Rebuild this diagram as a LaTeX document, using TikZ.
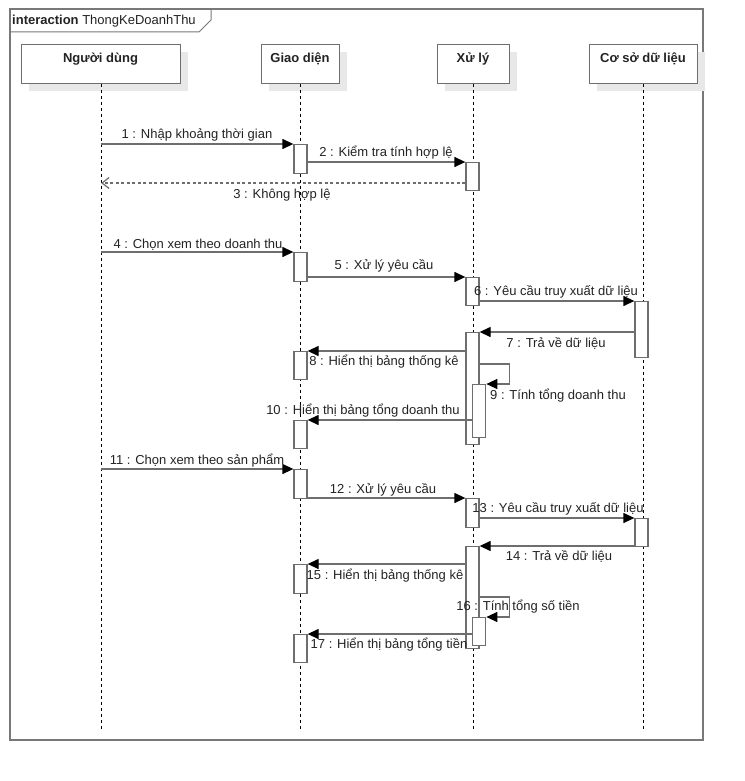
\documentclass[tikz,border=0pt]{standalone}
\usepackage{fontspec}
\setmainfont{Liberation Sans}
\usetikzlibrary{arrows.meta,shadows}
\definecolor{lc}{RGB}{110,110,110}
\definecolor{fc}{RGB}{120,120,120}
\definecolor{sh}{RGB}{232,232,232}
\definecolor{tc}{RGB}{35,35,35}
\begin{document}
\begin{tikzpicture}[x=1pt,y=-1pt,
  font=\fontsize{13}{15}\selectfont, text=tc,
  head/.style={draw=lc, line width=1.3pt, fill=white, inner sep=0pt, anchor=north west,
    drop shadow={shadow xshift=7pt, shadow yshift=-7pt, fill=sh, opacity=1}},
  headtxt/.style={anchor=base, inner sep=0pt, font=\fontsize{13}{15}\selectfont\bfseries},
  life/.style={black, line width=0.9pt, dash pattern=on 3pt off 3pt},
  act/.style={draw=lc, line width=1.3pt, fill=white, minimum width=13pt, inner sep=0pt, anchor=north},
  msg/.style={lc, line width=1.3pt, -{Triangle[length=11pt,width=10pt,color=black]}},
  ret/.style={lc, line width=1.2pt, dash pattern=on 3pt off 2.5pt, -{Straight Barb[length=7pt,width=11pt]}},
  lbl/.style={anchor=base, inner sep=0pt}]
\useasboundingbox (0,0) rectangle (744,781);
% frame
\draw[fc, line width=1.3pt, fill=white] (10,9) rectangle (703,740);
\draw[fc, line width=1pt] (10,32) -- (199,32) -- (211,20) -- (211,9);
\node[anchor=base west, inner sep=0pt] (title) at (12,25) {\textbf{interaction} ThongKeDoanhThu};
% heads
\node[head, minimum width=159pt, minimum height=39pt] (user) at (21,44) {};
\node[head, minimum width=78pt, minimum height=39pt] (gui) at (261,44) {};
\node[head, minimum width=72pt, minimum height=39pt] (proc) at (437,44) {};
\node[head, minimum width=108pt, minimum height=39pt] (db) at (589,44) {};
\node[headtxt] (usert) at (100.5,63) {Người dùng};
\node[headtxt] (guit) at (300,63) {Giao diện};
\node[headtxt] (proct) at (473,63) {Xử lý};
\node[headtxt] (dbt) at (643,63) {Cơ sở dữ liệu};
% lifelines
\coordinate (bot) at (0,730);
\draw[life] (user.south) -- (user.south |- bot);
\draw[life] (gui.south) -- (gui.south |- bot);
\draw[life] (proc.south) -- (proc.south |- bot);
\draw[life] (db.south) -- (db.south |- bot);
% activations
\node[act, minimum height=29pt] (G1) at (300.5,144) {};
\node[act, minimum height=28pt] (X1) at (472.5,162) {};
\node[act, minimum height=29pt] (G2) at (300.5,252) {};
\node[act, minimum height=28pt] (X2) at (472.5,277) {};
\node[act, minimum height=56pt] (D1) at (641.5,301) {};
\node[act, minimum height=112pt] (X3) at (472.5,332) {};
\node[act, minimum height=28pt] (G3) at (300.5,351) {};
\node[act, minimum height=53pt] (N1) at (479.2,384) {};
\node[act, minimum height=28pt] (G4) at (300.5,420) {};
\node[act, minimum height=29pt] (G5) at (300.5,469) {};
\node[act, minimum height=29pt] (X4) at (472.5,498) {};
\node[act, minimum height=28pt] (D2) at (641.5,518) {};
\node[act, minimum height=102pt] (X5) at (472.5,546) {};
\node[act, minimum height=29pt] (G6) at (300.5,564) {};
\node[act, minimum height=28pt] (N2) at (479.2,617) {};
\node[act, minimum height=28pt] (G7) at (300.5,634) {};
% messages
\draw[msg] (user.south |- G1.north) -- (G1.north west);
\draw[msg] (G1.east |- X1.north) -- (X1.north west);
\draw[ret] (X1.west |- 0,183) -- (user.south |- 0,183);
\draw[msg] (user.south |- G2.north) -- (G2.north west);
\draw[msg] (G2.east |- X2.north) -- (X2.north west);
\draw[msg] (X2.east |- D1.north) -- (D1.north west);
\draw[msg] (D1.west |- X3.north) -- (X3.north east);
\draw[msg] (X3.west |- G3.north) -- (G3.north east);
\draw[msg] (X3.east |- 0,364) -- ++(30,0) |- (N1.north east);
\draw[msg] (N1.west |- G4.north) -- (G4.north east);
\draw[msg] (user.south |- G5.north) -- (G5.north west);
\draw[msg] (G5.east |- X4.north) -- (X4.north west);
\draw[msg] (X4.east |- D2.north) -- (D2.north west);
\draw[msg] (D2.west |- X5.north) -- (X5.north east);
\draw[msg] (X5.west |- G6.north) -- (G6.north east);
\draw[msg] (X5.east |- 0,597) -- ++(30,0) |- (N2.north east);
\draw[msg] (N2.west |- G7.north) -- (G7.north east);
% labels
\node[lbl] (L1) at (197,139) {1 : Nhập khoảng thời gian};
\node[lbl] (L2) at (386,157) {2 : Kiểm tra tính hợp lệ};
\node[lbl] (L3) at (282,198) {3 : Không hợp lệ};
\node[lbl] (L4) at (198,248) {4 : Chọn xem theo doanh thu};
\node[lbl] (L5) at (384,269) {5 : Xử lý yêu cầu};
\node[lbl] (L6) at (556,295) {6 : Yêu cầu truy xuất dữ liệu};
\node[lbl] (L7) at (556,347) {7 : Trả về dữ liệu};
\node[lbl] (L8) at (384,365) {8 : Hiển thị bảng thống kê};
\node[lbl] (L9) at (558,399) {9 : Tính tổng doanh thu};
\node[lbl] (L10) at (363,414) {10 : Hiển thị bảng tổng doanh thu};
\node[lbl] (L11) at (197,464) {11 : Chọn xem theo sản phẩm};
\node[lbl] (L12) at (383,493) {12 : Xử lý yêu cầu};
\node[lbl] (L13) at (558,512) {13 : Yêu cầu truy xuất dữ liệu};
\node[lbl] (L14) at (559,560) {14 : Trả về dữ liệu};
\node[lbl] (L15) at (385,579) {15 : Hiển thị bảng thống kê};
\node[lbl] (L16) at (518,610) {16 : Tính tổng số tiền};
\node[lbl] (L17) at (389,648) {17 : Hiển thị bảng tổng tiền};
\end{tikzpicture}
\end{document}
